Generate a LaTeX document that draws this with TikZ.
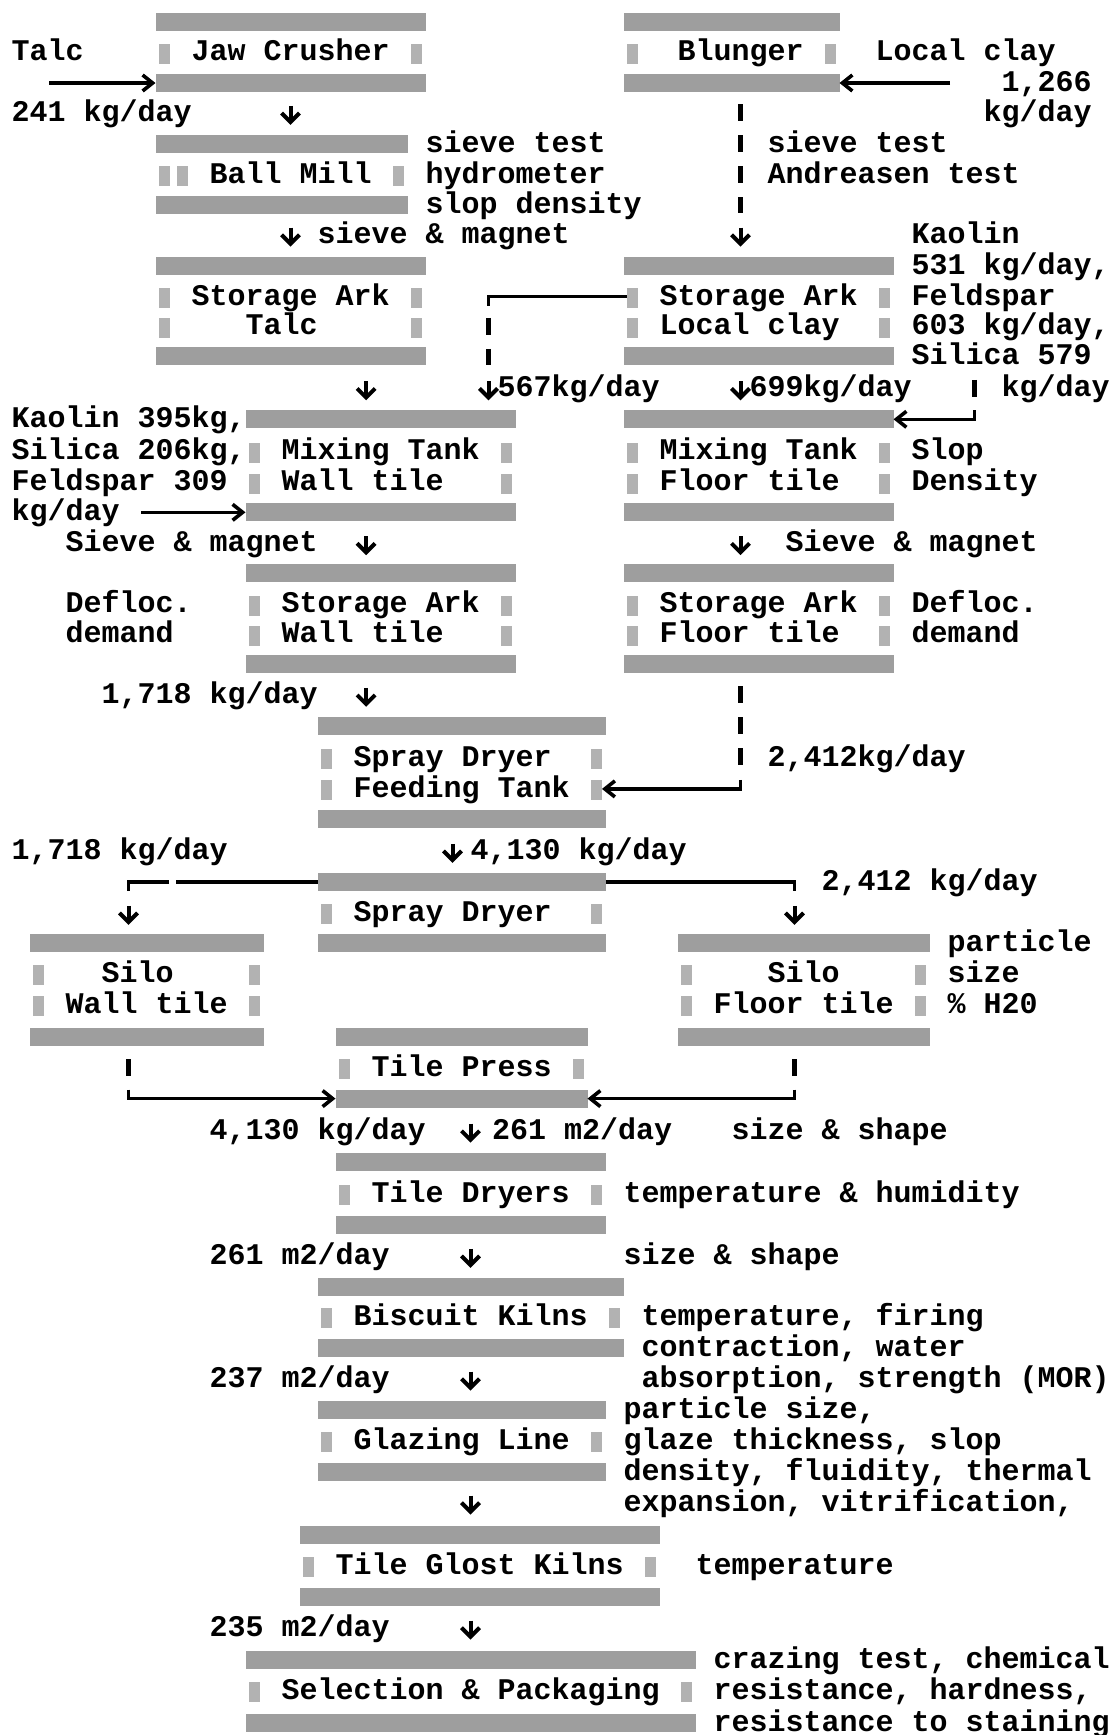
\documentclass[tikz,border=0pt]{standalone}
\usepackage{fontspec}
\newfontfamily\monofnt{Liberation Mono}
\usetikzlibrary{arrows.meta}
\def\LY{{0,22,52,83,112.9,143.8,174.8,204.7,234.6,265.5,296.5,326.4,356.3,388.3,419.3,451.4,482.4,512.3,543.2,573.1,604.1,634,663.8,694.8,725.8,757.9,788.9,818.7,850.8,881.8,912.8,942.7,973.6,1004.6,1036.7,1067.7,1098.6,1130.7,1161.7,1193.8,1224.8,1255.8,1286.7,1316.6,1347.6,1378.6,1409.5,1440.5,1471.5,1502.5,1534.6,1565.6,1596.5,1627.5,1659.6,1690.6,1722.6}}
% name, col, line, text
\newcommand\Ttxt[4]{\node[txtst] (#1) at ({11.5+18*(#2)},{\LY[#3]+8.5}) {#4};}
% name, first col, last col, line
\newcommand\Tband[4]{\node[bandst,minimum width={(#3-#2+1)*9pt}] (#1) at ({11.5+9*(#2+#3+1)},{\LY[#4]}) {};}
% name, col, line
\newcommand\Tsq[3]{\node[sqst] (#1) at ({11.5+18*(#2+0.5)},{\LY[#3]+1.5}) {};}
% name, col, line : a down arrow glyph
\newcommand\Tdn[3]{%
  \coordinate (#1a) at ({11.5+18*(#2+0.5)},{\LY[#3]-7});
  \coordinate (#1b) at ({11.5+18*(#2+0.5)},{\LY[#3]+12});
  \draw[dnst] (#1a) -- (#1b);}
% name, col, first line, last line : vertical bars
\newcommand\Tbars[4]{%
  \coordinate (#1a) at ({11.5+18*(#2+0.5)},{\LY[#3]-8.5});
  \coordinate (#1b) at ({11.5+18*(#2+0.5)},{\LY[#4]+8.5});
  \draw[barst] (#1a) -- (#1b);}
\begin{document}
\begin{tikzpicture}[x=0.5pt,y=-0.5pt,
  txtst/.style={anchor=base west,inner sep=0pt,outer sep=0pt,text=black,
    font=\monofnt\bfseries\fontsize{15pt}{15pt}\selectfont},
  bandst/.style={fill=black!38,draw=none,inner sep=0pt,outer sep=0pt,minimum height=9pt},
  sqst/.style={fill=black!30,draw=none,inner sep=0pt,outer sep=0pt,minimum width=5.5pt,minimum height=10pt},
  dnst/.style={line width=2pt,-{Straight Barb[length=4.5pt,width=9pt]}},
  barst/.style={line width=2.5pt,dash pattern=on 8.5pt off 6.95pt},
  lnst/.style={line width=1.8pt},
  arst/.style={line width=1.8pt,-{Straight Barb[length=5pt,width=8pt]}}]
\fill[white] (0,0) rectangle (1113,1735);
\useasboundingbox (0,0) rectangle (1113,1735);

% ---------- Jaw Crusher ----------
\Tband{jawT}{8}{22}{1}
\Tband{jawB}{8}{22}{3}
\Tsq{jawL}{8}{2}\Tsq{jawR}{22}{2}
\Ttxt{tTalc}{0}{2}{Talc}
\Ttxt{tJaw}{10}{2}{Jaw Crusher}
\Ttxt{t241}{0}{4}{241 kg/day}
\coordinate (talcS) at (49,{\LY[3]});
\draw[arst] (talcS) -- (jawB.west);

% ---------- Blunger ----------
\Tband{blT}{34}{45}{1}
\Tband{blB}{34}{45}{3}
\Tsq{blL}{34}{2}\Tsq{blR}{45}{2}
\Ttxt{tBl}{37}{2}{Blunger}
\Ttxt{tLc}{48}{2}{Local clay}
\Ttxt{t1266}{55}{3}{1,266}
\Ttxt{tKgA}{54}{4}{kg/day}
\coordinate (lcS) at (950,{\LY[3]});
\draw[arst] (lcS) -- (blB.east);

% ---------- Ball Mill ----------
\Tdn{dA}{15}{4}
\Tband{bmT}{8}{21}{5}
\Tband{bmB}{8}{21}{7}
\Tsq{bmL1}{8}{6}\Tsq{bmL2}{9}{6}\Tsq{bmR}{21}{6}
\Ttxt{tBm}{11}{6}{Ball Mill}
\Ttxt{tSv1}{23}{5}{sieve test}
\Ttxt{tHy}{23}{6}{hydrometer}
\Ttxt{tSd}{23}{7}{slop density}
\Tdn{dB}{15}{8}
\Ttxt{tSm1}{17}{8}{sieve \& magnet}

% Blunger down line
\Tbars{bA}{40}{4}{7}
\Ttxt{tSv2}{42}{5}{sieve test}
\Ttxt{tAn}{42}{6}{Andreasen test}
\Tdn{dC}{40}{8}
\Ttxt{tKao}{50}{8}{Kaolin}

% ---------- Storage Ark Talc ----------
\Tband{saT}{8}{22}{9}
\Tband{saB}{8}{22}{12}
\Tsq{saL1}{8}{10}\Tsq{saR1}{22}{10}\Tsq{saL2}{8}{11}\Tsq{saR2}{22}{11}
\Ttxt{tSa1}{10}{10}{Storage Ark}
\Ttxt{tTalc2}{13}{11}{Talc}

% ---------- Storage Ark Local clay ----------
\Tband{slT}{34}{48}{9}
\Tband{slB}{34}{48}{12}
\Tsq{slL1}{34}{10}\Tsq{slR1}{48}{10}\Tsq{slL2}{34}{11}\Tsq{slR2}{48}{11}
\Ttxt{tSa2}{36}{10}{Storage Ark}
\Ttxt{tLc2}{36}{11}{Local clay}
\Ttxt{t531}{50}{9}{531 kg/day,}
\Ttxt{tFe}{50}{10}{Feldspar}
\Ttxt{t603}{50}{11}{603 kg/day,}
\Ttxt{tSi}{50}{12}{Silica 579}

% local clay to wall tile mixing tank
\coordinate (kAc) at ({11.5+18*26.5},{\LY[10]});
\coordinate (kAd) at ({11.5+18*26.5},{\LY[10]+9});
\draw[lnst] (kAc -| slL1.west) -- (kAc) -- (kAd);
\Tbars{bB}{26}{11}{12}
\Tdn{dD}{26}{13}
\Ttxt{t567}{27}{13}{567kg/day}
\Tdn{dE}{19.2}{13}
\Tdn{dF}{40}{13}
\Ttxt{t699}{41}{13}{699kg/day}
\Tbars{bC}{53}{13}{13}
\Ttxt{tKgB}{55}{13}{kg/day}

% ---------- Mixing Tank Wall tile ----------
\Tband{mlT}{13}{27}{14}
\Tband{mlB}{13}{27}{17}
\Tsq{mlL1}{13}{15}\Tsq{mlR1}{27}{15}\Tsq{mlL2}{13}{16}\Tsq{mlR2}{27}{16}
\Ttxt{tMt1}{15}{15}{Mixing Tank}
\Ttxt{tWt1}{15}{16}{Wall tile}
\Ttxt{tKao2}{0}{14}{Kaolin 395kg,}
\Ttxt{tSil2}{0}{15}{Silica 206kg,}
\Ttxt{tFe2}{0}{16}{Feldspar 309}
\Ttxt{tKgC}{0}{17}{kg/day}
\coordinate (kgS) at (141,{\LY[17]});
\draw[arst] (kgS) -- (mlB.west);

% ---------- Mixing Tank Floor tile ----------
\Tband{mrT}{34}{48}{14}
\Tband{mrB}{34}{48}{17}
\Tsq{mrL1}{34}{15}\Tsq{mrR1}{48}{15}\Tsq{mrL2}{34}{16}\Tsq{mrR2}{48}{16}
\Ttxt{tMt2}{36}{15}{Mixing Tank}
\Ttxt{tFt1}{36}{16}{Floor tile}
\Ttxt{tSl}{50}{15}{Slop}
\Ttxt{tDe}{50}{16}{Density}
\coordinate (kBd) at ({11.5+18*53.5},{\LY[14]-9});
\coordinate (kBc) at ({11.5+18*53.5},{\LY[14]});
\draw[arst] (kBd) -- (kBc) -- (mrT.east);

% ---------- Sieve & magnet ----------
\Ttxt{tSm2}{3}{18}{Sieve \& magnet}
\Tdn{dG}{19.2}{18}
\Tdn{dH}{40}{18}
\Ttxt{tSm3}{43}{18}{Sieve \& magnet}

% ---------- Storage Ark Wall tile ----------
\Tband{swT}{13}{27}{19}
\Tband{swB}{13}{27}{22}
\Tsq{swL1}{13}{20}\Tsq{swR1}{27}{20}\Tsq{swL2}{13}{21}\Tsq{swR2}{27}{21}
\Ttxt{tSa3}{15}{20}{Storage Ark}
\Ttxt{tWt2}{15}{21}{Wall tile}
\Ttxt{tDf1}{3}{20}{Defloc.}
\Ttxt{tDm1}{3}{21}{demand}

% ---------- Storage Ark Floor tile ----------
\Tband{sfT}{34}{48}{19}
\Tband{sfB}{34}{48}{22}
\Tsq{sfL1}{34}{20}\Tsq{sfR1}{48}{20}\Tsq{sfL2}{34}{21}\Tsq{sfR2}{48}{21}
\Ttxt{tSa4}{36}{20}{Storage Ark}
\Ttxt{tFt2}{36}{21}{Floor tile}
\Ttxt{tDf2}{50}{20}{Defloc.}
\Ttxt{tDm2}{50}{21}{demand}

% ---------- Spray Dryer Feeding Tank ----------
\Ttxt{t1718a}{5}{23}{1,718 kg/day}
\Tdn{dI}{19.2}{23}
\Tband{ftT}{17}{32}{24}
\Tband{ftB}{17}{32}{27}
\Tsq{ftL1}{17}{25}\Tsq{ftR1}{32}{25}\Tsq{ftL2}{17}{26}\Tsq{ftR2}{32}{26}
\Ttxt{tSd1}{19}{25}{Spray Dryer}
\Ttxt{tFt}{19}{26}{Feeding Tank}
\Tbars{bD}{40}{23}{25}
\Ttxt{t2412a}{42}{25}{2,412kg/day}
\coordinate (kCd) at ({11.5+18*40.5},{\LY[26]-9});
\coordinate (kCc) at ({11.5+18*40.5},{\LY[26]});
\draw[arst] (kCd) -- (kCc) -- (kCc -| ftR2.east);

% ---------- Spray Dryer ----------
\Ttxt{t1718b}{0}{28}{1,718 kg/day}
\Tdn{dJ}{24}{28}
\Ttxt{t4130a}{25.5}{28}{4,130 kg/day}
\Tband{sdT}{17}{32}{29}
\Tband{sdB}{17}{32}{31}
\Tsq{sdL}{17}{30}\Tsq{sdR}{32}{30}
\Ttxt{tSd2}{19}{30}{Spray Dryer}
\Ttxt{t2412b}{45}{29}{2,412 kg/day}
\coordinate (kDc) at ({11.5+18*6.5},{\LY[29]});
\coordinate (kDd) at ({11.5+18*6.5},{\LY[29]+9});
\coordinate (kDg1) at (176,{\LY[29]});
\coordinate (kDg2) at (169,{\LY[29]});
\draw[lnst] (sdT.west) -- (kDg1);
\draw[lnst] (kDg2) -- (kDc) -- (kDd);
\coordinate (kEc) at ({11.5+18*43.5},{\LY[29]});
\coordinate (kEd) at ({11.5+18*43.5},{\LY[29]+9});
\draw[lnst] (sdT.east) -- (kEc) -- (kEd);
\Tdn{dK}{6}{30}
\Tdn{dL}{43}{30}

% ---------- Silo Wall tile ----------
\Tband{wsT}{1}{13}{31}
\Tband{wsB}{1}{13}{34}
\Tsq{wsL1}{1}{32}\Tsq{wsR1}{13}{32}\Tsq{wsL2}{1}{33}\Tsq{wsR2}{13}{33}
\Ttxt{tSi1}{5}{32}{Silo}
\Ttxt{tWt3}{3}{33}{Wall tile}

% ---------- Silo Floor tile ----------
\Tband{fsT}{37}{50}{31}
\Tband{fsB}{37}{50}{34}
\Tsq{fsL1}{37}{32}\Tsq{fsR1}{50}{32}\Tsq{fsL2}{37}{33}\Tsq{fsR2}{50}{33}
\Ttxt{tSi2}{42}{32}{Silo}
\Ttxt{tFt3}{39}{33}{Floor tile}
\Ttxt{tPa}{52}{31}{particle}
\Ttxt{tSz}{52}{32}{size}
\Ttxt{tH2}{52}{33}{\% H20}

% ---------- Tile Press ----------
\Tband{tpT}{18}{31}{34}
\Tband{tpB}{18}{31}{36}
\Tsq{tpL}{18}{35}\Tsq{tpR}{31}{35}
\Ttxt{tTp}{20}{35}{Tile Press}
\Tbars{bE}{6}{35}{35}
\Tbars{bF}{43}{35}{35}
\coordinate (kFd) at ({11.5+18*6.5},{\LY[36]-9});
\coordinate (kFc) at ({11.5+18*6.5},{\LY[36]});
\draw[arst] (kFd) -- (kFc) -- (tpB.west);
\coordinate (kGd) at ({11.5+18*43.5},{\LY[36]-9});
\coordinate (kGc) at ({11.5+18*43.5},{\LY[36]});
\draw[arst] (kGd) -- (kGc) -- (tpB.east);

% ---------- Tile Dryers ----------
\Ttxt{t4130b}{11}{37}{4,130 kg/day}
\Tdn{dM}{25}{37}
\Ttxt{t261a}{26.7}{37}{261 m2/day}
\Ttxt{tSs1}{40}{37}{size \& shape}
\Tband{tdT}{18}{32}{38}
\Tband{tdB}{18}{32}{40}
\Tsq{tdL}{18}{39}\Tsq{tdR}{32}{39}
\Ttxt{tTd}{20}{39}{Tile Dryers}
\Ttxt{tTh}{34}{39}{temperature \& humidity}

% ---------- Biscuit Kilns ----------
\Ttxt{t261b}{11}{41}{261 m2/day}
\Tdn{dN}{25}{41}
\Ttxt{tSs2}{34}{41}{size \& shape}
\Tband{bkT}{17}{33}{42}
\Tband{bkB}{17}{33}{44}
\Tsq{bkL}{17}{43}\Tsq{bkR}{33}{43}
\Ttxt{tBk}{19}{43}{Biscuit Kilns}
\Ttxt{tTf}{35}{43}{temperature, firing}
\Ttxt{tCw}{35}{44}{contraction, water}

% ---------- Glazing Line ----------
\Ttxt{t237}{11}{45}{237 m2/day}
\Tdn{dO}{25}{45}
\Ttxt{tAb}{35}{45}{absorption, strength (MOR)}
\Tband{glT}{17}{32}{46}
\Tband{glB}{17}{32}{48}
\Tsq{glL}{17}{47}\Tsq{glR}{32}{47}
\Ttxt{tGl}{19}{47}{Glazing Line}
\Ttxt{tPs}{34}{46}{particle size,}
\Ttxt{tGt}{34}{47}{glaze thickness, slop}
\Ttxt{tDfl}{34}{48}{density, fluidity, thermal}
\Tdn{dP}{25}{49}
\Ttxt{tEv}{34}{49}{expansion, vitrification,}

% ---------- Tile Glost Kilns ----------
\Tband{gkT}{16}{35}{50}
\Tband{gkB}{16}{35}{52}
\Tsq{gkL}{16}{51}\Tsq{gkR}{35}{51}
\Ttxt{tGk}{18}{51}{Tile Glost Kilns}
\Ttxt{tTe}{38}{51}{temperature}

% ---------- Selection & Packaging ----------
\Ttxt{t235}{11}{53}{235 m2/day}
\Tdn{dQ}{25}{53}
\Tband{spT}{13}{37}{54}
\Tband{spB}{13}{37}{56}
\Tsq{spL}{13}{55}\Tsq{spR}{37}{55}
\Ttxt{tSp}{15}{55}{Selection \& Packaging}
\Ttxt{tCt}{39}{54}{crazing test, chemical}
\Ttxt{tRh}{39}{55}{resistance, hardness,}
\Ttxt{tRs}{39}{56}{resistance to staining}
\end{tikzpicture}
\end{document}
